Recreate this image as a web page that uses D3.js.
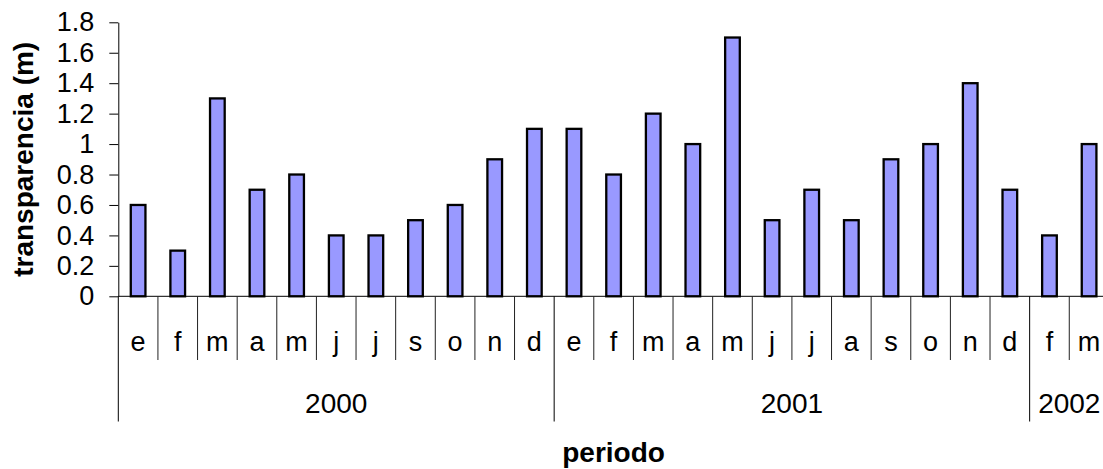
<!DOCTYPE html>
<html>
<head>
<meta charset="utf-8">
<script src="https://cdn.jsdelivr.net/npm/d3@7"></script>
<style>
  html, body { margin: 0; padding: 0; background: #fff; }
  svg { display: block; }
  text { font-family: "Liberation Sans", Arial, sans-serif; fill: #000; }
</style>
</head>
<body>
<svg id="chart" width="1103" height="469"></svg>
<script>
// Monthly water transparency (m), Jan 2000 – Mar 2002
const months = ["e","f","m","a","m","j","j","s","o","n","d",
                "e","f","m","a","m","j","j","a","s","o","n","d",
                "f","m"];
const transparency = [0.6,0.3,1.3,0.7,0.8,0.4,0.4,0.5,0.6,0.9,1.1,
                      1.1,0.8,1.2,1.0,1.7,0.5,0.7,0.5,0.9,1.0,1.4,0.7,
                      0.4,1.0];
const years = ["2000","2001","2002"];
const monthsPerYear = [11,12,2];
const yTicks = [0,0.2,0.4,0.6,0.8,1,1.2,1.4,1.6,1.8];

const svg = d3.select("#chart");
const plotLeft = 118.3, plotRight = 1108.9, plotTop = 22.3, plotBottom = 296.3;
const tickFont = "27px";

const x = d3.scaleBand()
  .domain(d3.range(months.length))
  .range([plotLeft, plotRight])
  .paddingInner(0.63)
  .paddingOuter(0.315);
const y = d3.scaleLinear().domain([0, 1.8]).range([plotBottom, plotTop]);
const step = x.step();
const boundary = k => plotLeft + k * step;

// bars
svg.append("g").selectAll("rect")
  .data(transparency)
  .join("rect")
  .attr("x", (d, i) => x(i))
  .attr("y", d => y(d))
  .attr("width", x.bandwidth())
  .attr("height", d => y(0) - y(d))
  .attr("fill", "#9999FF")
  .attr("stroke", "#000")
  .attr("stroke-width", 2.3);

// value axis
const yAxis = svg.append("g")
  .attr("transform", `translate(${plotLeft},0)`)
  .call(d3.axisLeft(y).tickValues(yTicks).tickFormat(d3.format("~g"))
    .tickSize(9).tickSizeOuter(0).tickPadding(15));
yAxis.select(".domain").attr("stroke", "#000");
yAxis.selectAll("line").attr("stroke", "#000");
yAxis.selectAll("text").style("font-size", tickFont)
  .style("font-family", "'Liberation Sans', Arial, sans-serif");

// category axis line
svg.append("line")
  .attr("x1", plotLeft).attr("x2", plotRight)
  .attr("y1", plotBottom).attr("y2", plotBottom)
  .attr("stroke", "#000");

// month labels
const xAxis = svg.append("g")
  .attr("transform", `translate(0,${plotBottom})`)
  .call(d3.axisBottom(x).tickFormat(i => months[i]).tickSize(0).tickPadding(36));
xAxis.select(".domain").remove();
xAxis.selectAll("text").style("font-size", tickFont)
  .style("font-family", "'Liberation Sans', Arial, sans-serif");

// month separators; year boundaries run further down
const yearStarts = [0, 11, 23, 25];
svg.append("g").selectAll("line")
  .data(d3.range(months.length + 1))
  .join("line")
  .attr("x1", k => boundary(k)).attr("x2", k => boundary(k))
  .attr("y1", plotBottom)
  .attr("y2", k => yearStarts.includes(k) ? 421.5 : 360)
  .attr("stroke", k => yearStarts.includes(k) ? "#000" : "#222")
  .attr("stroke-width", 1);

// year labels
let start = 0;
const yearPos = monthsPerYear.map(n => { const p = [start, start + n]; start += n; return p; });
svg.append("g").selectAll("text")
  .data(years)
  .join("text")
  .attr("x", (d, i) => (boundary(yearPos[i][0]) + boundary(yearPos[i][1])) / 2)
  .attr("y", 413)
  .attr("text-anchor", "middle")
  .style("font-size", "28px")
  .text(d => d);

// axis titles
svg.append("text")
  .attr("transform", `translate(33,${(plotTop + plotBottom) / 2}) rotate(-90)`)
  .attr("text-anchor", "middle")
  .style("font-size", "28px")
  .style("font-weight", "bold")
  .text("transparencia (m)");

svg.append("text")
  .attr("x", (plotLeft + plotRight) / 2)
  .attr("y", 462)
  .attr("text-anchor", "middle")
  .style("font-size", "28px")
  .style("font-weight", "bold")
  .text("periodo");
</script>
</body>
</html>
